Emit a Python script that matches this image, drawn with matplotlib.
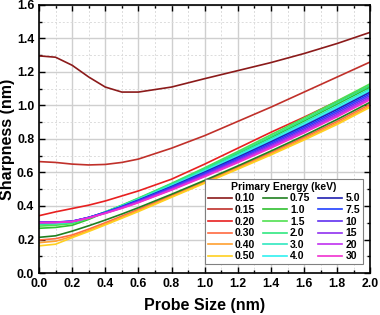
import matplotlib
matplotlib.use("Agg")
import matplotlib.pyplot as plt
from matplotlib.ticker import MultipleLocator

plt.rcParams['font.family'] = ['Liberation Sans', 'DejaVu Sans']
plt.rcParams['font.weight'] = 'bold'

probe_size = [0, 0.1, 0.2, 0.3, 0.4, 0.5, 0.6, 0.8, 1.0, 1.2, 1.4, 1.6, 1.8, 2.0]

energy_labels = ["0.10", "0.15", "0.20", "0.30", "0.40", "0.50",
                 "0.75", "1.0", "1.5", "2.0", "3.0", "4.0",
                 "5.0", "7.5", "10", "15", "20", "30"]

e_010 = [1.296, 1.288, 1.240, 1.170, 1.110, 1.080, 1.080, 1.110, 1.160, 1.208, 1.256, 1.310, 1.370, 1.437]
e_015 = [0.665, 0.660, 0.650, 0.645, 0.648, 0.660, 0.680, 0.745, 0.820, 0.905, 0.990, 1.080, 1.170, 1.260]
e_020 = [0.342, 0.365, 0.385, 0.405, 0.430, 0.460, 0.490, 0.560, 0.650, 0.745, 0.840, 0.930, 1.025, 1.118]
e_030 = [0.197, 0.205, 0.227, 0.262, 0.300, 0.340, 0.380, 0.463, 0.547, 0.632, 0.719, 0.810, 0.905, 1.008]
e_040 = [0.181, 0.190, 0.218, 0.253, 0.292, 0.332, 0.372, 0.456, 0.540, 0.625, 0.711, 0.801, 0.895, 0.998]
e_050 = [0.162, 0.172, 0.211, 0.248, 0.287, 0.327, 0.367, 0.452, 0.536, 0.620, 0.705, 0.794, 0.887, 0.990]
e_075 = [0.213, 0.222, 0.250, 0.282, 0.316, 0.352, 0.390, 0.470, 0.553, 0.639, 0.728, 0.820, 0.917, 1.020]
e_1 = [0.267, 0.272, 0.285, 0.320, 0.362, 0.402, 0.443, 0.530, 0.620, 0.713, 0.808, 0.907, 1.008, 1.110]
e_15 = [0.280, 0.285, 0.295, 0.325, 0.365, 0.405, 0.447, 0.535, 0.628, 0.725, 0.825, 0.925, 1.027, 1.130]
e_2 = [0.290, 0.293, 0.300, 0.328, 0.365, 0.403, 0.445, 0.532, 0.623, 0.718, 0.815, 0.915, 1.017, 1.120]
e_3 = [0.295, 0.297, 0.303, 0.330, 0.364, 0.401, 0.441, 0.526, 0.614, 0.706, 0.800, 0.897, 0.997, 1.100]
e_4 = [0.298, 0.300, 0.305, 0.331, 0.363, 0.399, 0.438, 0.521, 0.608, 0.698, 0.791, 0.887, 0.987, 1.090]
e_5 = [0.302, 0.303, 0.308, 0.332, 0.362, 0.397, 0.435, 0.516, 0.602, 0.691, 0.783, 0.878, 0.977, 1.080]
e_75 = [0.303, 0.304, 0.309, 0.332, 0.361, 0.395, 0.432, 0.512, 0.596, 0.684, 0.775, 0.869, 0.967, 1.070]
e_10 = [0.303, 0.304, 0.309, 0.331, 0.360, 0.393, 0.429, 0.507, 0.590, 0.677, 0.767, 0.860, 0.957, 1.060]
e_15k = [0.302, 0.303, 0.308, 0.330, 0.358, 0.390, 0.425, 0.502, 0.584, 0.670, 0.759, 0.851, 0.947, 1.050]
e_20 = [0.301, 0.302, 0.307, 0.329, 0.357, 0.388, 0.422, 0.498, 0.579, 0.664, 0.752, 0.844, 0.940, 1.042]
e_30 = [0.300, 0.301, 0.306, 0.328, 0.356, 0.386, 0.420, 0.495, 0.575, 0.659, 0.746, 0.837, 0.933, 1.035]

series = [e_010, e_015, e_020, e_030, e_040, e_050,
          e_075, e_1, e_15, e_2, e_3, e_4,
          e_5, e_75, e_10, e_15k, e_20, e_30]

colors = ["#8B1A1A", "#C0302A", "#E82020", "#FF6A40", "#FFA030", "#FFD020",
          "#208020", "#30C030", "#50E050", "#30E880", "#30E8C0", "#30F0F0",
          "#2020B0", "#2040FF", "#6030F0", "#9030F0", "#C030F0", "#F030D0"]

fig = plt.figure(figsize=(3.8, 3.15), dpi=100)
ax = fig.add_axes([0.1026, 0.1333, 0.872, 0.851])

handles = []
for lab, ys, c in zip(energy_labels, series, colors):
    h, = ax.plot(probe_size, ys, color=c, lw=1.2, label=lab)
    handles.append(h)

ax.set_xlim(0, 2.0)
ax.set_ylim(0, 1.6)
ax.xaxis.set_major_locator(MultipleLocator(0.2))
ax.xaxis.set_minor_locator(MultipleLocator(0.1))
ax.yaxis.set_major_locator(MultipleLocator(0.2))
ax.yaxis.set_minor_locator(MultipleLocator(0.1))
ax.grid(which='major', color='#cfcfcf', lw=1.0, ls='-')
ax.grid(which='minor', color='#dcdcdc', lw=0.7, ls=(0, (2, 2)))
ax.set_axisbelow(True)
ax.tick_params(which='both', direction='in', top=True, right=True, width=1.0)
ax.tick_params(which='major', length=4, labelsize=8.8)
ax.tick_params(which='minor', length=2)
for s in ax.spines.values():
    s.set_linewidth(1.2)
for lab in ax.get_xticklabels() + ax.get_yticklabels():
    lab.set_fontweight('bold')

ax.set_xlabel("Probe Size (nm)", fontsize=11.5, fontweight='bold', labelpad=6)
ax.set_ylabel("Sharpness (nm)", fontsize=11.5, fontweight='bold', labelpad=1)

leg = ax.legend(handles=handles, ncol=3, loc='lower left',
                bbox_to_anchor=(0.5, 0.032), title="Primary Energy (keV)",
                fontsize=7.5, title_fontproperties={'weight': 'bold', 'size': 7.5},
                handlelength=2.3, handletextpad=0.3, labelspacing=0.15,
                columnspacing=0.75, borderpad=0.3, fancybox=False,
                edgecolor='#808080', framealpha=1, borderaxespad=0)
leg.get_frame().set_linewidth(0.8)
for t in leg.get_texts():
    t.set_fontweight('bold')

fig.savefig("out.png", dpi=100)
